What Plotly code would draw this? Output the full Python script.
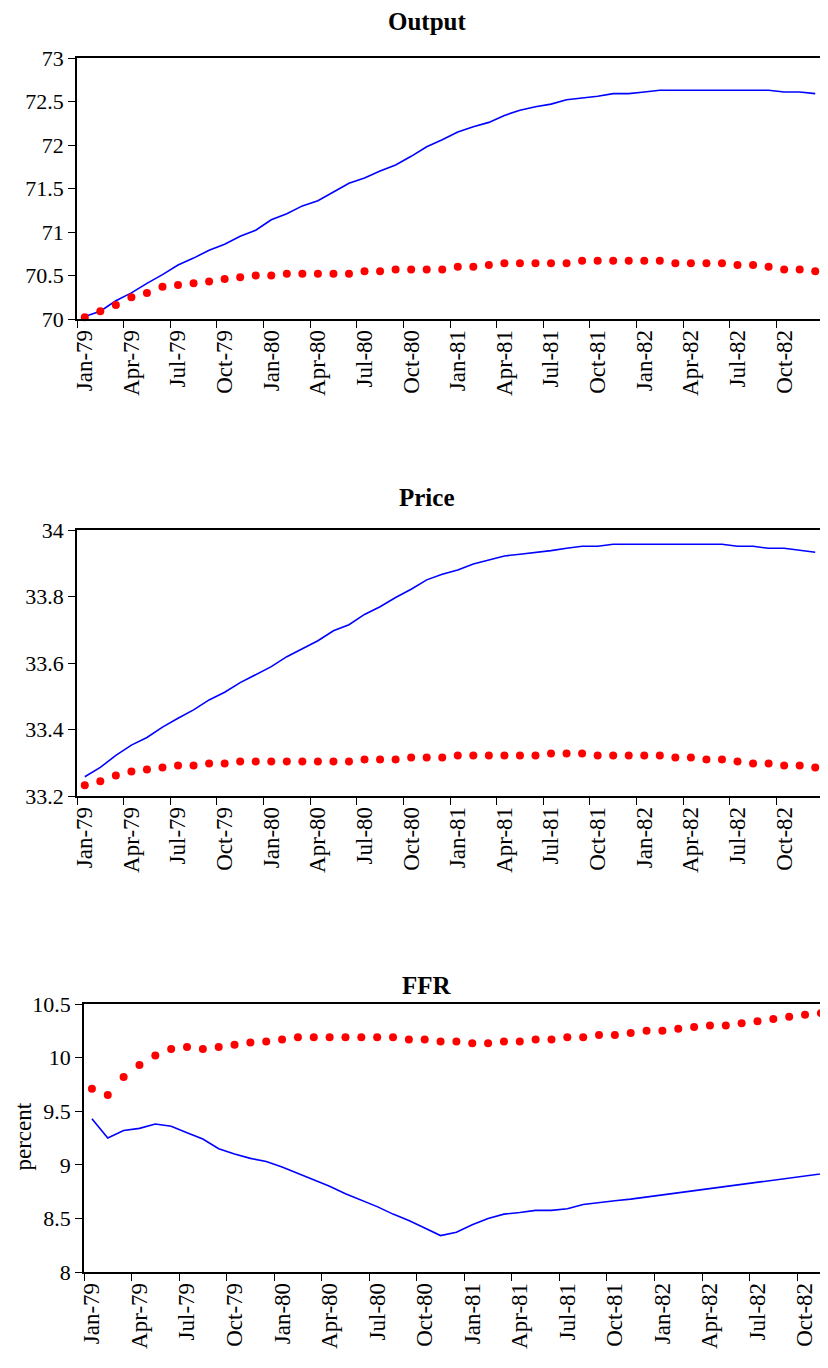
import pandas as pd
import plotly.graph_objects as go

# ---- data ----
months = [d.strftime("%b-%y") for d in pd.date_range("1979-01-01", periods=48, freq="MS")]

output_blue = [70.03, 70.09, 70.21, 70.30, 70.41, 70.51, 70.62, 70.70, 70.79, 70.86,
               70.95, 71.02, 71.14, 71.21, 71.30, 71.36, 71.46, 71.56, 71.62, 71.70,
               71.77, 71.87, 71.98, 72.06, 72.15, 72.21, 72.26, 72.34, 72.40, 72.44,
               72.47, 72.52, 72.54, 72.56, 72.59, 72.59, 72.61, 72.63, 72.63, 72.63,
               72.63, 72.63, 72.63, 72.63, 72.63, 72.61, 72.61, 72.59]
output_red = [70.02, 70.09, 70.16, 70.25, 70.30, 70.37, 70.39, 70.41, 70.43, 70.46,
              70.48, 70.50, 70.50, 70.52, 70.52, 70.52, 70.52, 70.52, 70.55, 70.55,
              70.57, 70.57, 70.57, 70.57, 70.60, 70.60, 70.62, 70.64, 70.64, 70.64,
              70.64, 70.64, 70.67, 70.67, 70.67, 70.67, 70.67, 70.67, 70.64, 70.64,
              70.64, 70.64, 70.62, 70.62, 70.60, 70.57, 70.57, 70.55]

price_blue = [33.258, 33.286, 33.322, 33.353, 33.376, 33.407, 33.434, 33.459, 33.489, 33.512,
              33.541, 33.566, 33.589, 33.619, 33.644, 33.667, 33.697, 33.715, 33.746, 33.769,
              33.797, 33.822, 33.850, 33.867, 33.880, 33.898, 33.910, 33.922, 33.927, 33.932,
              33.938, 33.945, 33.951, 33.951, 33.957, 33.957, 33.957, 33.957, 33.957, 33.957,
              33.957, 33.957, 33.951, 33.951, 33.945, 33.945, 33.939, 33.933]
price_red = [33.232, 33.244, 33.262, 33.274, 33.280, 33.286, 33.292, 33.292, 33.298, 33.298,
             33.304, 33.304, 33.304, 33.304, 33.304, 33.304, 33.304, 33.304, 33.310, 33.310,
             33.310, 33.316, 33.316, 33.316, 33.322, 33.322, 33.322, 33.322, 33.322, 33.322,
             33.328, 33.328, 33.328, 33.322, 33.322, 33.322, 33.322, 33.322, 33.316, 33.316,
             33.310, 33.310, 33.304, 33.298, 33.298, 33.292, 33.292, 33.286]

ffr_blue = [9.43, 9.25, 9.32, 9.34, 9.38, 9.36, 9.30, 9.24, 9.15, 9.10,
            9.06, 9.03, 8.98, 8.92, 8.86, 8.80, 8.73, 8.67, 8.61, 8.54,
            8.48, 8.41, 8.34, 8.37, 8.44, 8.50, 8.54, 8.555, 8.575, 8.575,
            8.59, 8.63, 8.65, 8.665, 8.68, 8.70, 8.72, 8.74, 8.76, 8.78,
            8.80, 8.82, 8.84, 8.86, 8.88, 8.90, 8.915, 8.935]
ffr_red = [9.71, 9.65, 9.82, 9.93, 10.02, 10.08, 10.10, 10.08, 10.10, 10.12,
           10.14, 10.15, 10.17, 10.19, 10.19, 10.19, 10.19, 10.19, 10.19, 10.19,
           10.17, 10.17, 10.15, 10.15, 10.135, 10.135, 10.15, 10.15, 10.17, 10.17,
           10.19, 10.19, 10.21, 10.21, 10.23, 10.25, 10.25, 10.27, 10.285, 10.30,
           10.30, 10.32, 10.34, 10.36, 10.38, 10.40, 10.415, 10.43]

panels = [
    ("Output", output_blue, output_red, [70, 73], 0.5),
    ("Price", price_blue, price_red, [33.2, 34.0], 0.2),
    ("FFR", ffr_blue, ffr_red, [8, 10.5], 0.5),
]

# page is offset by the default 8px body margin -> figure drawn 8px in
OFF = 8
W, H = 828 - OFF, 1368 - OFF
# pixel boxes of plot areas in page coordinates: (left, right, top, bottom)
boxes = [(77, 823, 58, 319), (77, 823, 530, 796), (84, 828, 1004, 1272)]
xranges = [[-0.5, 47.5], [-0.5, 47.5], [-0.5, 46.45]]
title_y = [22, 497, 985]


def px(x):
    return (x - OFF) / W


def py(y):
    return 1 - (y - OFF) / H


FONT = "Liberation Serif, Times New Roman, serif"

fig = go.Figure()
layout = dict(
    template="none",
    width=W, height=H, autosize=False,
    margin=dict(l=0, r=0, t=0, b=0, pad=0, autoexpand=False),
    paper_bgcolor="white", plot_bgcolor="white",
    showlegend=False,
    font=dict(family=FONT, size=22, color="black"),
    annotations=[],
)

for k, (name, blue, red, yr, dy) in enumerate(panels):
    sfx = "" if k == 0 else str(k + 1)
    xa, ya = "x" + sfx, "y" + sfx
    fig.add_trace(go.Scatter(x=months, y=blue, mode="lines",
                             line=dict(color="#0000FF", width=1.6),
                             xaxis=xa, yaxis=ya, cliponaxis=True))
    fig.add_trace(go.Scatter(x=months, y=red, mode="markers",
                             marker=dict(color="#FF0000", size=8, line=dict(width=0)),
                             xaxis=xa, yaxis=ya, cliponaxis=False))
    l, r, t, b = boxes[k]
    layout["xaxis" + sfx] = dict(
        domain=[px(l), min(px(r), 1.0)], anchor=ya, type="category", automargin=False,
        range=xranges[k], tickmode="linear", tick0=0, dtick=3,
        tickson="boundaries", ticks="outside", ticklen=7, tickwidth=1,
        tickcolor="black", tickangle=-90, showgrid=False, zeroline=False,
        showline=True, linecolor="black", linewidth=1.5, mirror=True,
        tickfont=dict(family=FONT, size=23, color="black"),
    )
    layout["yaxis" + sfx] = dict(
        domain=[py(b), py(t)], anchor=xa, range=yr, dtick=dy,
        automargin=False,
        tick0=yr[0], ticks="outside", ticklen=7, tickwidth=1, tickcolor="black",
        showgrid=False, zeroline=False, showline=True, linecolor="black",
        linewidth=1.5, mirror=(k < 2),
        tickfont=dict(family=FONT, size=22, color="black"),
    )
    layout["annotations"].append(dict(
        text="<b>" + name + "</b>", xref="paper", yref="paper",
        x=px(427), y=py(title_y[k]), xanchor="center", yanchor="middle",
        showarrow=False, font=dict(family=FONT, size=25, color="black"),
    ))

layout["annotations"].append(dict(
    text="percent", xref="paper", yref="paper", x=px(9), y=py(1137),
    xanchor="left", yanchor="middle", textangle=-90, showarrow=False,
    borderpad=0, font=dict(family=FONT, size=23, color="black"),
))

fig.update_layout(**layout)
fig.write_html("out.html")
